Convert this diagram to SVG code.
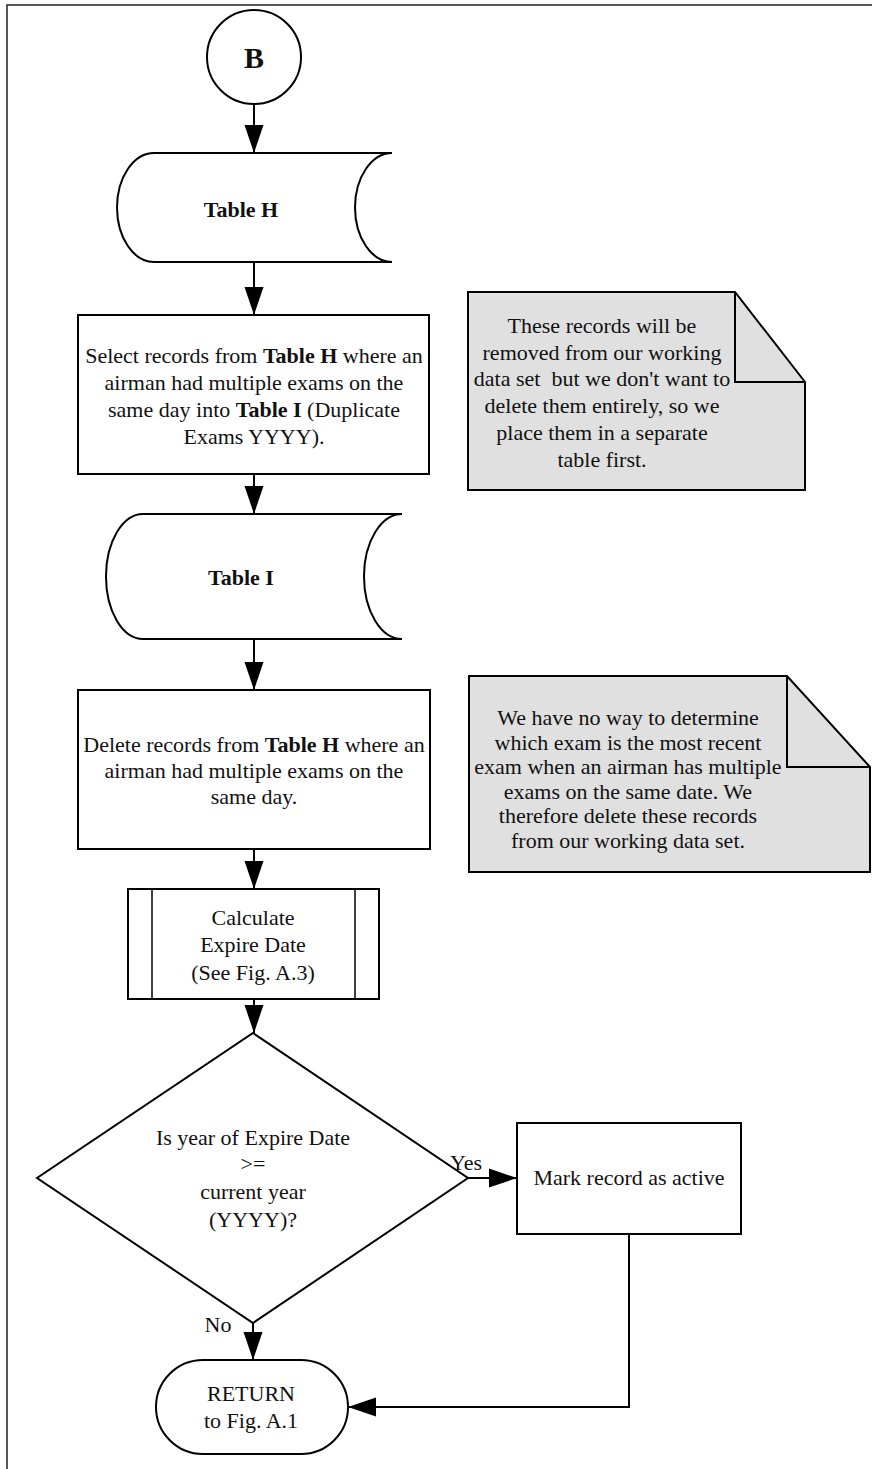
<svg xmlns="http://www.w3.org/2000/svg" width="872" height="1469" viewBox="0 0 872 1469">
<style>
.s{fill:#fff;stroke:#000;stroke-width:2}
.n{fill:#e0e0e0;stroke:#000;stroke-width:2}
.f{fill:none;stroke:#000;stroke-width:2}
.t{font-family:"Liberation Serif","Times New Roman",serif;font-size:22px;fill:#111;text-anchor:middle}
.b{font-weight:bold}
.c{fill:none;stroke:#000;stroke-width:2}
</style>
<defs>
<marker id="ah" markerUnits="userSpaceOnUse" markerWidth="28" markerHeight="20" refX="28" refY="10" orient="auto">
<path d="M0,0.5 L28,10 L0,19.5 Z" fill="#000"/>
</marker>
</defs>
<rect width="872" height="1469" fill="#fff"/>
<path d="M7,1469 L7,5 L872,5" fill="none" stroke="#222" stroke-width="1.5"/>

<g id="connectors">
<line class="c" x1="254" y1="104" x2="254" y2="153" marker-end="url(#ah)"/>
<line class="c" x1="254" y1="262" x2="254" y2="315" marker-end="url(#ah)"/>
<line class="c" x1="254" y1="474" x2="254" y2="514" marker-end="url(#ah)"/>
<line class="c" x1="254" y1="639" x2="254" y2="690" marker-end="url(#ah)"/>
<line class="c" x1="254" y1="849" x2="254" y2="889" marker-end="url(#ah)"/>
<line class="c" x1="254" y1="999" x2="254" y2="1033" marker-end="url(#ah)"/>
<line class="c" x1="468" y1="1178" x2="517" y2="1178" marker-end="url(#ah)"/>
<line class="c" x1="253" y1="1323" x2="253" y2="1360" marker-end="url(#ah)"/>
<polyline class="c" points="629,1234 629,1407 348,1407" marker-end="url(#ah)"/>
<text class="t" x="466" y="1170">Yes</text>
<text class="t" x="218" y="1332">No</text>
</g>

<g id="start">
<circle class="s" cx="254" cy="57" r="47"/>
<text class="t b" x="254" y="68" style="font-size:30px">B</text>
</g>

<g id="tableH">
<path class="s" d="M154,153 L392,153 A37,54.5 0 0 0 392,262 L154,262 A37,54.5 0 0 1 154,153 Z"/>
<text class="t b" x="241" y="217">Table H</text>
</g>

<g id="select">
<rect class="s" x="78" y="315" width="351" height="159"/>
<text class="t" x="254" y="363">Select records from <tspan class="b">Table H</tspan> where an</text>
<text class="t" x="254" y="390">airman had multiple exams on the</text>
<text class="t" x="254" y="417">same day into <tspan class="b">Table I</tspan> (Duplicate</text>
<text class="t" x="254" y="444">Exams YYYY).</text>
</g>

<g id="note1">
<path class="n" d="M468,292 L735,292 L805,382 L805,490 L468,490 Z"/>
<path class="f" d="M735,292 L735,382 L805,382"/>
<text class="t" x="602" y="333">These records will be</text>
<text class="t" x="602" y="360">removed from our working</text>
<text class="t" x="602" y="386" style="white-space:pre">data set  but we don't want to</text>
<text class="t" x="602" y="413">delete them entirely, so we</text>
<text class="t" x="602" y="440">place them in a separate</text>
<text class="t" x="602" y="467">table first.</text>
</g>

<g id="tableI">
<path class="s" d="M143,514 L402,514 A38,62.5 0 0 0 402,639 L143,639 A37,62.5 0 0 1 143,514 Z"/>
<text class="t b" x="241" y="585">Table I</text>
</g>

<g id="delete">
<rect class="s" x="78" y="690" width="352" height="159"/>
<text class="t" x="254" y="752">Delete records from <tspan class="b">Table H</tspan> where an</text>
<text class="t" x="254" y="778">airman had multiple exams on the</text>
<text class="t" x="254" y="804">same day.</text>
</g>

<g id="note2">
<path class="n" d="M469,676 L787,676 L870,767 L870,872 L469,872 Z"/>
<path class="f" d="M787,676 L787,767 L870,767"/>
<text class="t" x="628" y="725">We have no way to determine</text>
<text class="t" x="628" y="750">which exam is the most recent</text>
<text class="t" x="628" y="774">exam when an airman has multiple</text>
<text class="t" x="628" y="799">exams on the same date. We</text>
<text class="t" x="628" y="823">therefore delete these records</text>
<text class="t" x="628" y="848">from our working data set.</text>
</g>

<g id="calc">
<rect class="s" x="128" y="889" width="251" height="110"/>
<line x1="152" y1="889" x2="152" y2="999" stroke="#000" stroke-width="1.5"/>
<line x1="355" y1="889" x2="355" y2="999" stroke="#000" stroke-width="1.5"/>
<text class="t" x="253" y="925">Calculate</text>
<text class="t" x="253" y="952">Expire Date</text>
<text class="t" x="253" y="980">(See Fig. A.3)</text>
</g>

<g id="decision">
<path class="s" d="M253,1033 L468,1178 L253,1323 L37,1178 Z"/>
<text class="t" x="253" y="1145">Is year of Expire Date</text>
<text class="t" x="253" y="1171">&gt;=</text>
<text class="t" x="253" y="1199">current year</text>
<text class="t" x="253" y="1227">(YYYY)?</text>
</g>

<g id="mark">
<rect class="s" x="517" y="1123" width="224" height="111"/>
<text class="t" x="629" y="1185">Mark record as active</text>
</g>

<g id="return">
<rect class="s" x="156" y="1360" width="192" height="94" rx="47" ry="47"/>
<text class="t" x="251" y="1401">RETURN</text>
<text class="t" x="251" y="1428">to Fig. A.1</text>
</g>
</svg>
